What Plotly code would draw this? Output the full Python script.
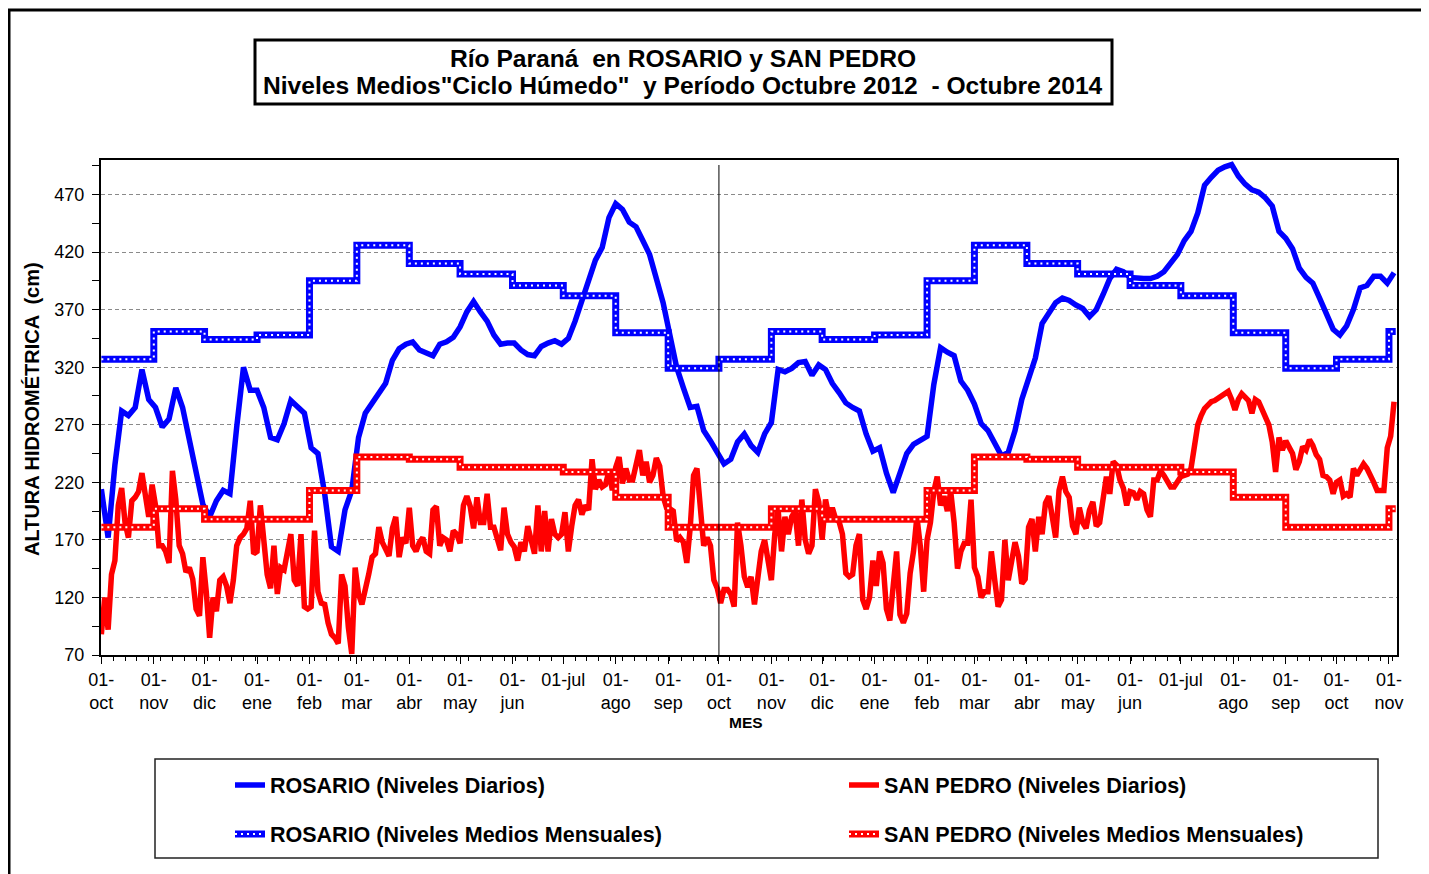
import pandas as pd
import plotly.graph_objects as go

# ---------------- DATA ----------------
series_start = "2012-10-01"
rosario_step_days = 4
san_pedro_step_days = 2

rosario_daily = [
    214, 172, 235, 282, 278, 285, 318, 292, 285, 268, 275, 302, 285, 256, 233, 201,
    190, 204, 213, 210, 268, 320, 300, 300, 285, 259, 257, 271, 291, 285, 280, 250,
    245, 210, 164, 160, 196, 213, 259, 280, 288, 297, 306, 326, 336, 340, 342, 335,
    333, 330, 340, 342, 346, 355, 368, 377, 368, 360, 348, 340, 341, 341, 335, 331,
    330, 338, 341, 343, 340, 345, 360, 378, 395, 413, 424, 450, 462, 457, 446, 442,
    430, 418, 397, 376, 348, 320, 302, 285, 286, 265, 256, 245, 236, 240, 255, 262,
    252, 246, 262, 272, 318, 316, 319, 324, 325, 313, 322, 318, 306, 298, 289, 285,
    282, 262, 247, 250, 228, 211, 228, 245, 253, 257, 260, 305, 337, 333, 330, 308,
    300, 288, 271, 265, 253, 243, 246, 265, 292, 311, 328, 358, 368, 376, 380, 378,
    374, 371, 364, 370, 383, 397, 405, 403, 398, 397, 397, 397, 399, 403, 410, 418,
    430, 438, 454, 478, 485, 491, 494, 496, 486, 479, 474, 472, 467, 460, 438, 432,
    423, 406, 398, 393, 380, 365, 353, 348, 356, 370, 389, 391, 399, 399, 393, 402,
]

san_pedro_daily = [
    88, 120, 92, 140, 152, 200, 215, 185, 172, 204, 207, 212, 228, 212, 190, 218,
    200, 165, 165, 160, 150, 230, 205, 165, 158, 142, 146, 136, 110, 104, 155, 125,
    85, 120, 108, 135, 138, 130, 115, 135, 165, 172, 175, 180, 204, 158, 160, 200,
    165, 140, 128, 165, 123, 146, 144, 160, 175, 135, 130, 175, 112, 110, 112, 178,
    125, 115, 114, 98, 88, 85, 80, 140, 130, 94, 71, 146, 123, 114, 130, 140,
    155, 158, 181, 168, 162, 156, 180, 190, 155, 172, 167, 198, 165, 160, 168, 172,
    160, 158, 196, 199, 165, 172, 170, 160, 178, 175, 167, 200, 208, 199, 180, 207,
    185, 185, 210, 181, 181, 172, 161, 198, 175, 168, 164, 152, 168, 160, 182, 170,
    158, 200, 160, 195, 160, 188, 175, 172, 175, 194, 160, 182, 200, 205, 192, 200,
    196, 240, 214, 222, 216, 218, 230, 213, 233, 242, 219, 232, 222, 222, 234, 248,
    226, 238, 220, 226, 241, 234, 208, 198, 197, 195, 169, 172, 168, 150, 180, 226,
    232, 200, 165, 172, 165, 135, 128, 115, 127, 127, 123, 112, 185, 165, 138, 129,
    138, 114, 142, 160, 170, 150, 135, 175, 196, 160, 190, 175, 190, 195, 165, 205,
    170, 158, 165, 214, 203, 170, 205, 190, 198, 188, 186, 175, 141, 138, 140, 165,
    175, 118, 110, 120, 152, 130, 160, 150, 110, 100, 130, 160, 105, 98, 106, 141,
    160, 190, 165, 125, 170, 185, 212, 225, 200, 208, 195, 212, 185, 145, 160, 167,
    167, 205, 146, 138, 120, 125, 125, 160, 135, 112, 118, 170, 135, 150, 168, 156,
    132, 136, 181, 188, 160, 190, 175, 202, 208, 190, 172, 213, 225, 212, 207, 182,
    175, 198, 185, 180, 196, 203, 182, 185, 205, 225, 210, 238, 235, 222, 215, 200,
    212, 211, 205, 212, 210, 196, 190, 222, 222, 230, 226, 220, 216, 216, 220, 225,
    226, 227, 232, 248, 270, 278, 284, 287, 290, 291, 293, 295, 297, 299, 292, 283,
    292, 297, 294, 291, 280, 292, 290, 283, 274, 270, 255, 229, 259, 248, 256, 250,
    245, 231, 238, 251, 248, 257, 252, 244, 240, 226, 225, 222, 210, 220, 222, 208,
    210, 207, 232, 226, 230, 236, 232, 227, 220, 213, 213, 213, 250, 260, 290,
]

month_starts = [
    "2012-10-01", "2012-11-01", "2012-12-01", "2013-01-01", "2013-02-01", "2013-03-01",
    "2013-04-01", "2013-05-01", "2013-06-01", "2013-07-01", "2013-08-01", "2013-09-01",
    "2013-10-01", "2013-11-01", "2013-12-01", "2014-01-01", "2014-02-01", "2014-03-01",
    "2014-04-01", "2014-05-01", "2014-06-01", "2014-07-01", "2014-08-01", "2014-09-01",
    "2014-10-01", "2014-11-01",
]
series_end = "2014-11-05"

rosario_monthly = [
    327, 351, 344, 348, 395, 426, 410, 401, 391, 382, 350, 319,
    327, 351, 344, 348, 395, 426, 410, 401, 391, 382, 350, 319,
    327, 351,
]
san_pedro_monthly = [
    181, 197, 188, 188, 213, 242, 240, 233, 233, 229, 207, 181,
    181, 197, 188, 188, 213, 242, 240, 233, 233, 229, 207, 181,
    181, 197,
]

tick_text = [
    "01-<br>oct", "01-<br>nov", "01-<br>dic", "01-<br>ene", "01-<br>feb", "01-<br>mar",
    "01-<br>abr", "01-<br>may", "01-<br>jun", "01-jul", "01-<br>ago", "01-<br>sep",
    "01-<br>oct", "01-<br>nov", "01-<br>dic", "01-<br>ene", "01-<br>feb", "01-<br>mar",
    "01-<br>abr", "01-<br>may", "01-<br>jun", "01-jul", "01-<br>ago", "01-<br>sep",
    "01-<br>oct", "01-<br>nov",
]
y_ticks = [70, 120, 170, 220, 270, 320, 370, 420, 470]

names = {
    "rd": "ROSARIO (Niveles Diarios)",
    "sd": "SAN PEDRO (Niveles Diarios)",
    "rm": "ROSARIO (Niveles Medios Mensuales)",
    "sm": "SAN PEDRO (Niveles Medios Mensuales)",
}
title_lines = [
    "Río Paraná  en ROSARIO y SAN PEDRO",
    'Niveles Medios"Ciclo Húmedo"  y Período Octubre 2012  - Octubre 2014',
]

# ---------------- LAYOUT GEOMETRY (pixels, page coords) ----------------
OFF = 8                      # page body margin of the html page
W, H = 1429 - OFF, 874 - OFF
PL, PR, PT, PB = 101, 1397, 160, 655  # plot area in page pixels


def px(xp):
    return (xp - PL) / (PR - PL)


def py(yp):
    return (PB - yp) / (PB - PT)


FONT = "Liberation Sans, Arial, sans-serif"
BLUE = "#0000FF"
RED = "#FF0000"
DOTS = dict(color="white", width=2, shape="hv", dash="2px,4px")

ros_dates = pd.date_range(series_start, periods=len(rosario_daily), freq=f"{rosario_step_days}D")
sp_dates = pd.date_range(series_start, periods=len(san_pedro_daily), freq=f"{san_pedro_step_days}D")
m_dates = pd.to_datetime(month_starts + [series_end])
ros_m = rosario_monthly + [rosario_monthly[-1]]
sp_m = san_pedro_monthly + [san_pedro_monthly[-1]]

fig = go.Figure()
fig.add_trace(go.Scatter(x=ros_dates, y=rosario_daily, mode="lines", name=names["rd"],
                         line=dict(color=BLUE, width=5.5), legend="legend2"))
fig.add_trace(go.Scatter(x=sp_dates, y=san_pedro_daily, mode="lines", name=names["sd"],
                         line=dict(color=RED, width=5.5), legend="legend3"))
fig.add_trace(go.Scatter(x=m_dates, y=ros_m, mode="lines", name=names["rm"],
                         line=dict(color=BLUE, width=7, shape="hv"), legend="legend4"))
fig.add_trace(go.Scatter(x=m_dates, y=sp_m, mode="lines", name=names["sm"],
                         line=dict(color=RED, width=7, shape="hv"), legend="legend5"))
# white dotted overlay that gives the monthly lines their dotted look (legend samples too)
fig.add_trace(go.Scatter(x=m_dates, y=ros_m, mode="lines", name=" ", hoverinfo="skip",
                         line=DOTS, legend="legend6"))
fig.add_trace(go.Scatter(x=m_dates, y=sp_m, mode="lines", name=" ", hoverinfo="skip",
                         line=DOTS, legend="legend7"))

leg_font = dict(family=FONT, size=21.5, color="black", weight="bold")


def leg(xp, yp):
    return dict(x=px(xp), y=py(yp), xanchor="left", yanchor="middle", orientation="h",
                bgcolor="rgba(0,0,0,0)", borderwidth=0, font=leg_font)


shapes = [
    # outer frame (top and left edges)
    dict(type="line", xref="paper", yref="paper", x0=px(7), x1=px(1440), y0=py(10), y1=py(10),
         line=dict(color="black", width=3)),
    dict(type="line", xref="paper", yref="paper", x0=px(9), x1=px(9), y0=py(9), y1=py(880),
         line=dict(color="black", width=3)),
    # title box
    dict(type="rect", xref="paper", yref="paper", x0=px(255), x1=px(1112), y0=py(40), y1=py(104),
         line=dict(color="black", width=3)),
    # legend box
    dict(type="rect", xref="paper", yref="paper", x0=px(155), x1=px(1378), y0=py(759), y1=py(858),
         line=dict(color="#222", width=1.5)),
    # divider at October 2013
    dict(type="line", xref="x", yref="paper", x0="2013-10-01", x1="2013-10-01", y0=0, y1=py(165),
         line=dict(color="black", width=1)),
]

title_font = dict(family=FONT, size=24.6, color="black", weight="bold")
annotations = [
    dict(text=title_lines[0], x=px(683), y=py(58), xref="paper", yref="paper",
         showarrow=False, xanchor="center", yanchor="middle", font=title_font),
    dict(text=title_lines[1], x=px(683), y=py(86), xref="paper", yref="paper",
         showarrow=False, xanchor="center", yanchor="middle", font=title_font),
    dict(text="ALTURA HIDROMÉTRICA  (cm)", x=px(32), y=py(409), xref="paper", yref="paper",
         showarrow=False, textangle=-90, xanchor="center", yanchor="middle",
         font=dict(family=FONT, size=20, color="black", weight="bold")),
    dict(text="MES", x=px(746), y=py(722), xref="paper", yref="paper", showarrow=False,
         xanchor="center", yanchor="middle",
         font=dict(family=FONT, size=15.5, color="black", weight="bold")),
]

fig.update_layout(
    width=W, height=H, autosize=False,
    margin=dict(l=PL - OFF, r=W - (PR - OFF), t=PT - OFF, b=H - (PB - OFF), pad=0),
    paper_bgcolor="white", plot_bgcolor="white",
    font=dict(family=FONT, color="black"),
    showlegend=True,
    legend=dict(visible=False),
    legend2=leg(230, 785), legend3=leg(844, 785), legend4=leg(230, 834), legend5=leg(844, 834),
    legend6=leg(230, 834), legend7=leg(844, 834),
    shapes=shapes, annotations=annotations,
    xaxis=dict(
        type="date", range=["2012-09-30 19:00", "2014-11-05 18:00"],
        tickmode="array", tickvals=pd.to_datetime(month_starts), ticktext=tick_text,
        ticks="outside", ticklen=7, tickwidth=1, tickcolor="black",
        tickfont=dict(family=FONT, size=18, color="black"),
        showline=True, linecolor="black", linewidth=2, mirror=True,
        showgrid=False, zeroline=False,
        minor=dict(ticks="outside", ticklen=4, tickcolor="black", dtick=7 * 86400000,
                   tick0="2012-10-01", showgrid=False),
    ),
    yaxis=dict(
        range=[70, 500], tickmode="array", tickvals=y_ticks,
        ticks="outside", ticklen=7, tickwidth=1, tickcolor="black",
        tickfont=dict(family=FONT, size=18, color="black"), ticklabelstandoff=4,
        showline=True, linecolor="black", linewidth=2, mirror=True,
        showgrid=True, gridcolor="#8a8a8a", gridwidth=1, griddash="4px,3px",
        zeroline=False,
        minor=dict(ticks="outside", ticklen=7, tickcolor="black", dtick=25, tick0=70, showgrid=False),
    ),
)

fig.write_html("out.html")
